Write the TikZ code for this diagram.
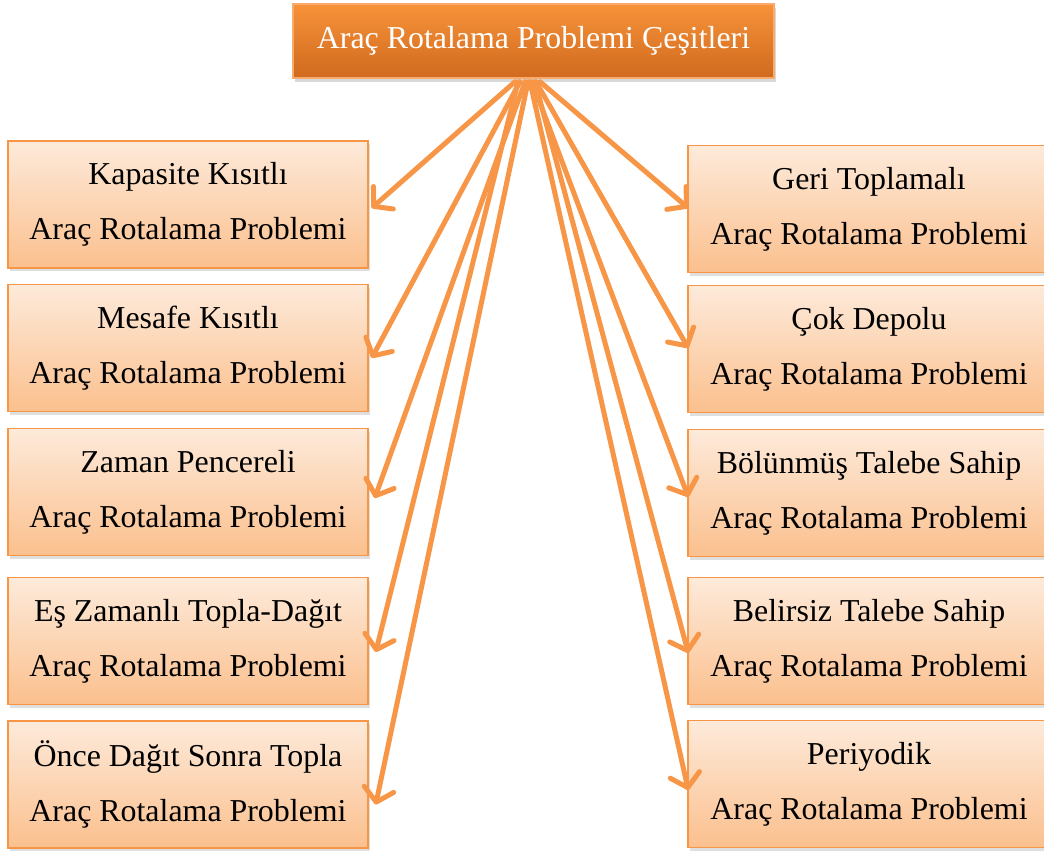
\documentclass[tikz,border=0pt]{standalone}
\usepackage{fontspec}
\setmainfont{Liberation Serif}
\usetikzlibrary{arrows.meta,shadows,calc}
\definecolor{acc}{HTML}{F79646}
\definecolor{boxtop}{HTML}{FDEADA}
\definecolor{boxbot}{HTML}{FBC08E}
\definecolor{hdtop}{HTML}{F7923A}
\definecolor{hdmid}{HTML}{F08A30}
\definecolor{hdbot}{HTML}{D06A1E}
\begin{document}
\begin{tikzpicture}[x=1pt,y=-1pt,
  item/.style={draw=acc, line width=1.5pt, top color=boxtop, bottom color=boxbot,
    minimum width=360pt, minimum height=127pt, align=center, inner sep=0pt,
    font=\fontsize{31.9}{55}\selectfont,
    drop shadow={shadow xshift=2pt,shadow yshift=-3pt,opacity=0.25}},
  head/.style={draw=acc!80, line width=1.5pt, top color=hdtop, middle color=hdmid, bottom color=hdbot,
    minimum width=481pt, minimum height=74pt, text=white, inner sep=0pt,
    font=\fontsize{31.9}{40}\selectfont,
    drop shadow={shadow xshift=2pt,shadow yshift=-4pt,opacity=0.3}},
  link/.style={draw=acc, line width=5pt, line cap=round,
    -{Straight Barb[length=13pt,width=30pt,line cap=round,line join=round]}}]
\useasboundingbox (0,0) rectangle (1044,852);

\node[head] (top) at (533.5,41) {Araç Rotalama Problemi Çeşitleri};

\node[item] (L1) at (188,204.5) {Kapasite Kısıtlı\\Araç Rotalama Problemi};
\node[item] (L2) at (188,348) {Mesafe Kısıtlı\\Araç Rotalama Problemi};
\node[item] (L3) at (188,492) {Zaman Pencereli\\Araç Rotalama Problemi};
\node[item] (L4) at (188,641) {Eş Zamanlı Topla-Dağıt\\Araç Rotalama Problemi};
\node[item] (L5) at (188,784.5) {Önce Dağıt Sonra Topla\\Araç Rotalama Problemi};

\node[item, minimum width=362pt] (R1) at (869,209) {Geri Toplamalı\\Araç Rotalama Problemi};
\node[item, minimum width=362pt] (R2) at (869,349) {Çok Depolu\\Araç Rotalama Problemi};
\node[item, minimum width=362pt] (R3) at (869,493) {Bölünmüş Talebe Sahip\\Araç Rotalama Problemi};
\node[item, minimum width=362pt] (R4) at (869,641) {Belirsiz Talebe Sahip\\Araç Rotalama Problemi};
\node[item, minimum width=362pt] (R5) at (869,784) {Periyodik\\Araç Rotalama Problemi};

\draw[link] ($(top.south)+(-18.5,3)$) -- ($(L1.east)+(3,3.5)$);
\draw[link] ($(top.south)+(-13.5,3)$) -- ($(L2.east)+(3,10)$);
\draw[link] ($(top.south)+(-8.5,3)$) -- ($(L3.east)+(6,6)$);
\draw[link] ($(top.south)+(-15.5,3)$) -- ($(L4.east)+(7,11)$);
\draw[link] ($(top.south)+(-5.5,3)$) -- ($(L5.east)+(7,20)$);

\draw[link] ($(top.south)+(6.5,3)$) -- ($(R1.west)+(1,-1)$);
\draw[link] ($(top.south)+(2.5,3)$) -- ($(R2.west)+(1,-1)$);
\draw[link] ($(top.south)+(-1.5,3)$) -- ($(R3.west)+(1,4)$);
\draw[link] ($(top.south)+(1.5,3)$) -- ($(R4.west)+(1,12)$);
\draw[link] ($(top.south)+(-3.5,3)$) -- ($(R5.west)+(1,6)$);
\end{tikzpicture}
\end{document}
